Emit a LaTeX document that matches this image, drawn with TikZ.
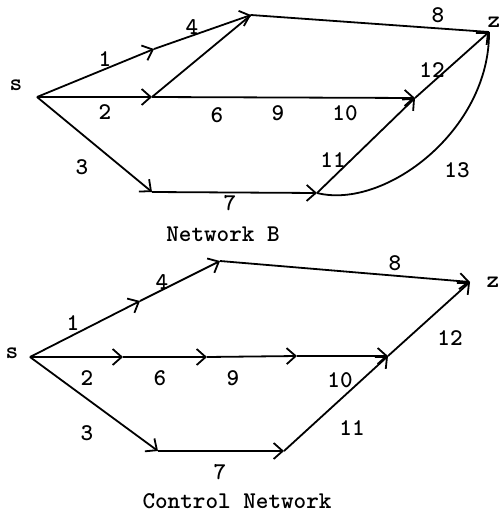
\documentclass[tikz,border=0pt]{standalone}
\usepackage{fontspec}
\usetikzlibrary{arrows.meta}
\tikzset{
  pfeil/.style={-{Straight Barb[length=4.5pt,width=8pt]},line width=0.9pt},
  kante/.style={line width=0.9pt},
  zahl/.style={font=\ttfamily\bfseries\fontsize{12}{14}\selectfont,inner sep=0pt},
  titel/.style={font=\ttfamily\bfseries\fontsize{12}{14}\selectfont,inner sep=0pt},
}

\begin{document}
\begin{tikzpicture}[x=0.5pt,y=-0.5pt]
  \useasboundingbox (0,0) rectangle (499,514);
  % Network B
  \coordinate (sB) at (37,97); \coordinate (aB) at (154,49); \coordinate (tB) at (251,15);
  \coordinate (bB) at (152,97); \coordinate (cB) at (415,98); \coordinate (zB) at (489,32);
  \coordinate (dB) at (152,192); \coordinate (eB) at (317,193);
  \draw[pfeil] (sB)--(aB); \draw[pfeil] (aB)--(tB); \draw[pfeil] (sB)--(bB); \draw[kante] (bB)--(tB);
  \draw[pfeil] (bB)--(cB); \draw[pfeil] (sB)--(dB); \draw[pfeil] (dB)--(eB); \draw[pfeil] (eB)--(cB);
  \draw[kante] (tB)--(zB); \draw[pfeil] (cB)--(zB);
  \draw[kante] (eB) .. controls (385,210) and (490,130) .. (zB);
  \node[titel] (sBl) at (16,85) {s}; \node[titel] (zBl) at (494,22) {z};
  \node[zahl] (b1) at (105,59) {1}; \node[zahl] (b4) at (192,27) {4}; \node[zahl] (b2) at (105,112) {2};
  \node[zahl] (b6) at (217,115) {6}; \node[zahl] (b9) at (278,113) {9}; \node[zahl] (b10) at (345,113) {10};
  \node[zahl] (b3) at (82,167) {3}; \node[zahl] (b7) at (230,203) {7}; \node[zahl] (b8) at (438,15) {8};
  \node[zahl] (b12) at (432,70) {12}; \node[zahl] (b11) at (333,160) {11}; \node[zahl] (b13) at (457,170) {13};
  \node[titel] (tiB) at (223,234) {Network B};
  % Control Network
  \coordinate (sC) at (30,357); \coordinate (aC) at (140,301); \coordinate (tC) at (220,261);
  \coordinate (bC) at (123,357); \coordinate (cC) at (207,357); \coordinate (fC) at (297,356);
  \coordinate (gC) at (388,356); \coordinate (zC) at (470,282); \coordinate (dC) at (158,451);
  \coordinate (eC) at (284,451);
  \draw[pfeil] (sC)--(aC); \draw[pfeil] (aC)--(tC); \draw[pfeil] (tC)--(zC);
  \draw[pfeil] (sC)--(bC); \draw[pfeil] (bC)--(cC); \draw[pfeil] (cC)--(fC); \draw[pfeil] (fC)--(gC);
  \draw[pfeil] (gC)--(zC); \draw[pfeil] (sC)--(dC); \draw[pfeil] (dC)--(eC); \draw[pfeil] (eC)--(gC);
  \node[titel] (sCl) at (12,353) {s}; \node[titel] (zCl) at (493,282) {z};
  \node[zahl] (c1) at (73,323) {1}; \node[zahl] (c4) at (162,282) {4}; \node[zahl] (c2) at (87,378) {2};
  \node[zahl] (c6) at (160,378) {6}; \node[zahl] (c9) at (233,378) {9}; \node[zahl] (c10) at (340,380) {10};
  \node[zahl] (c3) at (87,433) {3}; \node[zahl] (c7) at (220,472) {7}; \node[zahl] (c8) at (395,263) {8};
  \node[zahl] (c12) at (450,338) {12}; \node[zahl] (c11) at (352,428) {11};
  \node[titel] (tiC) at (237,501) {Control Network};
\end{tikzpicture}
\end{document}
